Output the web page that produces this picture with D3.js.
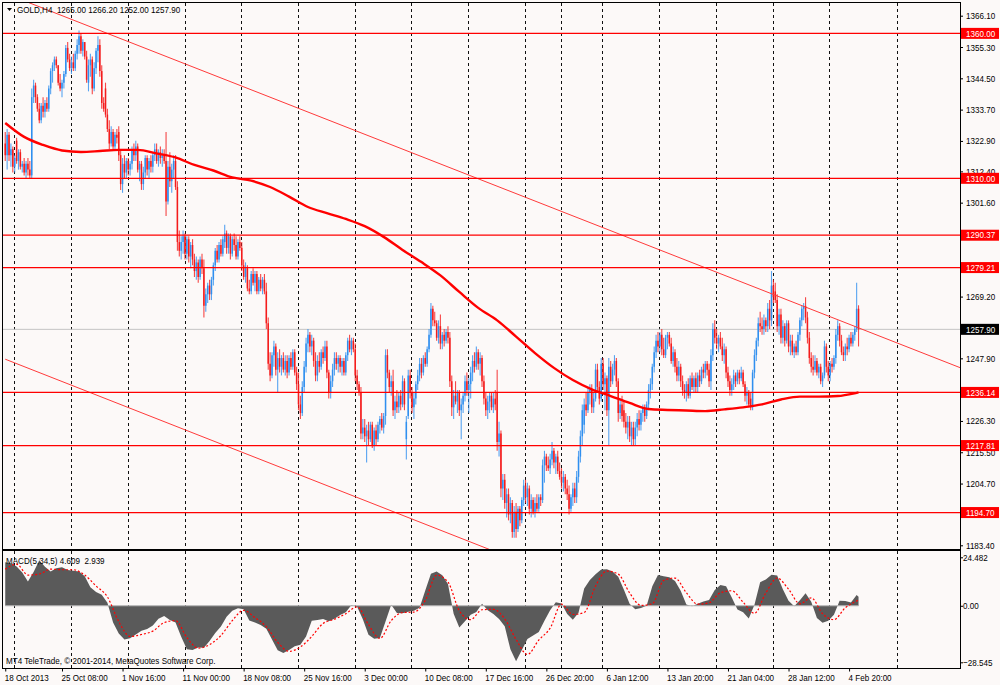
<!DOCTYPE html>
<html>
<head>
<meta charset="utf-8">
<script src="https://cdnjs.cloudflare.com/ajax/libs/d3/7.8.5/d3.min.js"></script>
<style>
	html, body { margin: 0; padding: 0; background: #fcf9f8; }
	svg { display: block; }
	text {
		font-family: "Liberation Sans", Arial, sans-serif;
		font-size: 9.4px;
		fill: #000;
		white-space: pre;
	}
</style>
</head>
<body>
<svg id="chart" width="1000" height="685"></svg>
<script>
// GOLD,H4 bars (one entry per 4 hour bar)
var barOpen = [
	1322,1318,1325,1318,1320,1314,1323,1316,1319,1314,
	1315,1312,1315,1313,1311,1338,1342,1338,1334,1330,
	1335,1333,1336,1334,1341,1347,1349,1351,1349,1343,
	1341,1343,1346,1355,1351,1348,1350,1348,1353,1356,
	1359,1354,1357,1352,1343,1349,1351,1341,1348,1354,
	1356,1347,1336,1341,1332,1327,1322,1326,1321,1325,
	1326,1318,1308,1315,1312,1316,1313,1315,1320,1318,
	1321,1313,1315,1308,1312,1317,1313,1316,1314,1318,
	1320,1316,1319,1317,1318,1316,1302,1314,1309,1313,
	1316,1307,1288,1285,1288,1290,1284,1289,1283,1287,
	1282,1278,1281,1276,1282,1279,1266,1270,1273,1270,
	1275,1280,1285,1282,1287,1284,1288,1291,1286,1290,
	1284,1289,1287,1283,1288,1286,1280,1276,1279,1272,
	1271,1277,1274,1277,1271,1275,1272,1275,1271,1260,
	1246,1242,1249,1252,1244,1248,1245,1248,1244,1247,
	1243,1248,1245,1250,1243,1239,1232,1229,1238,1245,
	1253,1256,1252,1254,1247,1242,1247,1245,1250,1248,
	1252,1243,1236,1240,1244,1248,1246,1248,1245,1247,
	1243,1249,1254,1251,1254,1251,1242,1239,1236,1222,
	1224,1221,1223,1220,1225,1218,1223,1220,1225,1227,
	1224,1228,1249,1243,1238,1240,1230,1233,1231,1235,
	1232,1240,1220,1228,1242,1236,1231,1234,1239,1242,
	1246,1243,1248,1246,1251,1256,1265,1261,1260,1255,
	1259,1253,1256,1254,1257,1255,1240,1231,1235,1233,
	1236,1230,1232,1235,1240,1237,1239,1243,1247,1245,
	1250,1246,1248,1240,1234,1230,1233,1235,1231,1234,
	1236,1219,1222,1203,1206,1198,1201,1194,1198,1188,
	1195,1189,1196,1192,1199,1204,1200,1203,1196,1199,
	1195,1198,1196,1200,1199,1211,1214,1211,1210,1213,
	1216,1212,1214,1209,1207,1205,1207,1203,1201,1196,
	1200,1203,1200,1207,1214,1221,1225,1232,1230,1236,
	1237,1231,1234,1244,1238,1234,1246,1239,1241,1230,
	1245,1240,1244,1247,1240,1229,1232,1230,1226,1224,
	1226,1221,1224,1220,1224,1227,1225,1229,1231,1228,
	1232,1237,1239,1245,1250,1254,1252,1256,1251,1249,
	1255,1256,1253,1247,1250,1245,1242,1245,1240,1237,
	1236,1239,1235,1241,1238,1241,1238,1242,1240,1244,
	1243,1246,1244,1240,1249,1258,1255,1253,1255,1252,
	1249,1251,1243,1240,1237,1239,1242,1240,1243,1241,
	1243,1239,1235,1236,1234,1231,1243,1249,1254,1260,
	1259,1258,1261,1259,1265,1261,1273,1271,1268,1259,
	1263,1255,1259,1254,1260,1252,1254,1250,1252,1250,
	1256,1261,1265,1266,1262,1255,1248,1245,1244,1247,
	1243,1245,1240,1242,1252,1245,1242,1246,1245,1248,
	1256,1259,1254,1250,1249,1252,1251,1255,1253,1256,
	1258,1265.00
];
var barHigh = [
	1326,1327,1326,1322,1321,1318,1324,1320,1320,1316,
	1317,1316,1317,1316,1341,1344,1343,1339,1336,1336,
	1338,1337,1338,1342,1348,1350,1352,1352,1349,1346,
	1344,1347,1356,1357,1353,1352,1353,1354,1358,1361,
	1360,1358,1357,1354,1351,1353,1352,1350,1355,1359,
	1358,1349,1338,1343,1334,1330,1328,1327,1326,1327,
	1328,1320,1317,1318,1317,1317,1316,1321,1322,1323,
	1322,1316,1316,1314,1318,1318,1317,1318,1319,1322,
	1322,1320,1321,1320,1320,1326,1316,1319,1315,1318,
	1318,1309,1292,1290,1292,1291,1290,1290,1288,1289,
	1284,1283,1282,1283,1284,1282,1272,1274,1275,1276,
	1281,1286,1287,1288,1289,1290,1294,1292,1291,1291,
	1290,1291,1290,1289,1290,1288,1282,1281,1280,1275,
	1278,1279,1278,1278,1276,1277,1276,1277,1274,1262,
	1250,1250,1254,1253,1250,1251,1249,1250,1249,1249,
	1249,1250,1251,1251,1245,1243,1235,1240,1247,1255,
	1258,1257,1256,1255,1250,1249,1250,1251,1252,1254,
	1254,1244,1242,1246,1250,1250,1249,1249,1248,1248,
	1250,1255,1256,1255,1255,1253,1244,1240,1238,1227,
	1227,1225,1226,1226,1226,1224,1225,1226,1228,1229,
	1229,1251,1251,1244,1242,1244,1235,1237,1236,1237,
	1242,1241,1228,1244,1244,1238,1236,1240,1244,1248,
	1248,1249,1250,1252,1258,1267,1266,1264,1261,1261,
	1263,1257,1258,1258,1259,1257,1242,1237,1240,1237,
	1237,1234,1236,1242,1243,1241,1245,1249,1250,1252,
	1251,1250,1249,1242,1236,1235,1236,1236,1236,1237,
	1244,1226,1223,1208,1208,1203,1203,1200,1199,1197,
	1198,1197,1197,1200,1206,1206,1205,1204,1201,1200,
	1200,1201,1201,1201,1213,1216,1215,1214,1215,1219,
	1217,1215,1216,1212,1210,1209,1208,1206,1204,1201,
	1205,1205,1209,1216,1223,1232,1234,1236,1238,1239,
	1239,1236,1246,1246,1240,1248,1248,1243,1242,1248,
	1247,1246,1249,1248,1241,1234,1235,1233,1229,1228,
	1228,1226,1226,1226,1229,1230,1230,1232,1232,1233,
	1239,1241,1246,1252,1256,1257,1257,1258,1255,1256,
	1257,1257,1255,1252,1251,1248,1247,1246,1242,1239,
	1240,1241,1242,1243,1242,1243,1243,1244,1245,1246,
	1247,1247,1246,1251,1260,1261,1258,1256,1257,1255,
	1253,1252,1245,1242,1241,1244,1243,1244,1244,1245,
	1244,1240,1238,1237,1236,1244,1251,1255,1262,1264,
	1262,1263,1262,1267,1268,1278,1275,1274,1270,1265,
	1265,1261,1260,1261,1261,1256,1256,1253,1254,1257,
	1262,1266,1267,1269,1264,1257,1250,1249,1249,1248,
	1246,1246,1243,1254,1253,1247,1247,1248,1249,1258,
	1261,1260,1256,1252,1253,1255,1256,1257,1257,1259,
	1274,1266.20
];
var barLow = [
	1316,1313,1316,1314,1312,1312,1315,1313,1313,1312,
	1311,1310,1311,1310,1310,1336,1336,1333,1329,1329,
	1331,1331,1333,1333,1339,1343,1347,1348,1342,1340,
	1338,1341,1345,1350,1347,1346,1347,1347,1351,1353,
	1353,1352,1351,1343,1340,1345,1339,1340,1346,1350,
	1345,1334,1333,1331,1326,1320,1321,1320,1320,1322,
	1316,1306,1305,1310,1310,1311,1311,1313,1316,1316,
	1312,1309,1306,1306,1310,1311,1310,1312,1312,1316,
	1315,1314,1315,1314,1315,1297,1301,1307,1305,1310,
	1306,1285,1283,1282,1284,1282,1282,1281,1279,1280,
	1276,1275,1274,1275,1277,1262,1264,1267,1268,1268,
	1273,1278,1281,1281,1283,1283,1286,1284,1284,1282,
	1283,1285,1282,1282,1285,1278,1275,1274,1271,1270,
	1270,1273,1271,1270,1270,1271,1270,1270,1258,1244,
	1240,1241,1245,1242,1236,1243,1242,1243,1242,1241,
	1242,1244,1244,1242,1237,1230,1227,1228,1236,1243,
	1250,1250,1249,1245,1240,1240,1243,1244,1246,1247,
	1241,1234,1234,1238,1242,1244,1243,1243,1242,1242,
	1242,1247,1250,1249,1250,1240,1237,1235,1220,1220,
	1219,1212,1218,1219,1217,1216,1218,1219,1222,1223,
	1222,1225,1241,1236,1235,1228,1227,1229,1229,1230,
	1231,1230,1213,1227,1234,1229,1227,1232,1237,1240,
	1241,1242,1245,1245,1250,1255,1259,1259,1254,1253,
	1251,1251,1252,1253,1253,1238,1228,1227,1232,1229,
	1228,1220,1229,1233,1235,1229,1234,1240,1243,1244,
	1244,1242,1238,1232,1228,1227,1229,1230,1229,1230,
	1216,1214,1200,1199,1196,1193,1192,1191,1186,1186,
	1186,1188,1190,1191,1197,1198,1197,1194,1193,1194,
	1193,1195,1195,1197,1198,1205,1209,1209,1208,1211,
	1210,1208,1208,1206,1203,1202,1201,1199,1194,1195,
	1197,1198,1198,1205,1212,1218,1222,1228,1229,1232,
	1229,1229,1233,1236,1232,1233,1237,1230,1228,1218,
	1238,1239,1242,1238,1226,1227,1226,1224,1222,1220,
	1219,1218,1218,1218,1221,1223,1223,1226,1226,1227,
	1230,1234,1237,1243,1248,1250,1250,1249,1248,1248,
	1251,1252,1246,1245,1243,1240,1240,1238,1235,1234,
	1233,1234,1234,1237,1236,1236,1236,1238,1239,1241,
	1241,1242,1238,1237,1247,1253,1251,1250,1251,1247,
	1246,1241,1238,1235,1235,1237,1238,1239,1239,1240,
	1238,1233,1232,1231,1230,1230,1241,1247,1252,1257,
	1256,1256,1257,1257,1258,1259,1267,1267,1257,1256,
	1253,1253,1252,1253,1250,1249,1249,1248,1249,1249,
	1254,1259,1261,1260,1253,1246,1243,1242,1243,1242,
	1241,1239,1238,1241,1243,1240,1240,1243,1244,1246,
	1254,1252,1249,1247,1247,1249,1250,1252,1252,1254,
	1257,1252.00
];
var barClose = [
	1318,1325,1318,1320,1314,1317,1316,1319,1314,1315,
	1312,1315,1313,1311,1338,1342,1338,1334,1330,1335,
	1333,1336,1334,1341,1347,1349,1351,1349,1343,1341,
	1343,1346,1355,1351,1348,1350,1348,1353,1356,1359,
	1354,1357,1352,1344,1349,1351,1341,1348,1354,1356,
	1347,1336,1334,1332,1327,1322,1326,1321,1325,1324,
	1318,1308,1315,1312,1316,1313,1315,1320,1318,1321,
	1313,1315,1308,1312,1317,1313,1316,1314,1318,1320,
	1316,1319,1317,1318,1316,1302,1314,1309,1313,1316,
	1307,1288,1285,1288,1290,1284,1289,1283,1287,1282,
	1278,1281,1276,1282,1279,1266,1270,1273,1270,1275,
	1280,1285,1282,1287,1284,1289,1291,1286,1290,1284,
	1289,1287,1283,1288,1286,1280,1276,1279,1272,1271,
	1277,1274,1277,1271,1275,1272,1275,1271,1260,1246,
	1242,1249,1252,1244,1248,1245,1248,1244,1247,1243,
	1248,1245,1250,1243,1239,1232,1229,1238,1245,1253,
	1256,1252,1254,1247,1242,1247,1245,1250,1248,1252,
	1243,1236,1240,1244,1248,1246,1248,1245,1247,1243,
	1249,1254,1251,1254,1251,1242,1239,1236,1222,1224,
	1221,1223,1220,1225,1218,1223,1220,1225,1227,1224,
	1228,1249,1243,1238,1240,1230,1233,1231,1235,1232,
	1240,1232,1226,1242,1236,1231,1234,1239,1242,1246,
	1243,1248,1246,1251,1256,1265,1261,1260,1255,1259,
	1253,1256,1254,1257,1255,1240,1231,1235,1233,1236,
	1230,1232,1235,1240,1237,1239,1243,1247,1245,1250,
	1246,1248,1240,1234,1230,1233,1235,1231,1234,1232,
	1219,1222,1203,1206,1198,1201,1194,1198,1188,1195,
	1189,1196,1192,1199,1204,1200,1203,1196,1199,1195,
	1198,1196,1200,1199,1211,1214,1211,1210,1213,1216,
	1212,1214,1209,1207,1205,1207,1203,1201,1196,1200,
	1203,1200,1207,1214,1221,1230,1232,1230,1236,1237,
	1231,1234,1244,1238,1234,1246,1239,1241,1230,1245,
	1240,1244,1247,1240,1229,1232,1228,1226,1224,1226,
	1221,1224,1220,1224,1227,1225,1229,1231,1228,1232,
	1237,1239,1245,1250,1254,1252,1256,1251,1249,1255,
	1256,1253,1247,1250,1245,1242,1245,1240,1237,1236,
	1239,1235,1241,1238,1241,1238,1242,1240,1244,1243,
	1246,1244,1240,1249,1258,1255,1253,1255,1252,1249,
	1251,1243,1240,1237,1239,1242,1240,1243,1241,1243,
	1239,1235,1236,1232,1231,1243,1249,1254,1260,1259,
	1258,1261,1259,1265,1261,1273,1269,1268,1259,1263,
	1255,1259,1254,1260,1252,1254,1250,1252,1250,1256,
	1261,1265,1266,1262,1255,1248,1245,1244,1247,1243,
	1245,1240,1242,1252,1245,1242,1246,1245,1248,1256,
	1259,1254,1250,1249,1252,1251,1255,1253,1256,1258,
	1265,1257.90
];

// moving average, one value every 10 bars, last one on the final bar
var maValues = [
	1329.1,1324.3,1321.5,1319.6,1319.1,1319.4,1319.8,1319.8,1318.6,1317.2,
	1314.6,1312.7,1310.3,1309.2,1307.0,1303.7,1300.1,1298.0,1296.0,1293.5,
	1289.8,1285.3,1281.1,1276.5,1270.8,1265.3,1261.0,1255.4,1249.7,1244.6,
	1240.4,1237.2,1234.9,1232.5,1230.4,1230.1,1229.9,1229.7,1230.3,1231.0,
	1232.0,1233.7,1234.7,1234.7,1234.9,1236.0,1236.14
];

// MACD(5,34,5): main every 3 bars, signal every 6 bars, last value on the final bar
var macdMain = [
	22,21.5,19.8,16.8,12.3,17,23,19.7,17.3,18.9,
	19.5,18.1,17.7,17.3,14.9,9.4,7,5.6,1.5,-8.5,
	-14,-17,-16.4,-14.5,-12.6,-11.7,-10,-6.6,-5.2,-7.2,
	-8.5,-15.7,-21.9,-22.3,-21.1,-21.2,-17.8,-13.8,-10.5,-5.6,
	-2.5,-1.3,-1.8,-7.4,-8.5,-9.7,-11.6,-17,-22.5,-23.9,
	-22.3,-20.4,-19.7,-15.5,-7.5,-7.2,-6.7,-7.8,-6.5,-4.6,
	-3.3,0.4,-0.5,-6.8,-14.6,-16.7,-16.3,-8,0.5,-3.6,
	-3.8,-3,-2.5,-1,7.7,16.2,17.3,15.4,11,-4,
	-11,-7.8,-4.5,-3.2,1,-2.3,-4.1,-6.7,-10.4,-22,
	-28,-22.5,-16.8,-15,-13.2,-7.5,-2.2,1.8,1.1,-4.2,
	-7.1,-3.5,8.7,13,15.9,18.3,18.4,17.3,14.6,8.1,
	1,-1.8,-1.1,0,9.8,15.6,14.9,14.4,12.5,7.6,
	0.6,-0.2,1,2.1,2.9,8,10.5,9.8,4.2,-1.9,
	-3.3,-6.4,0.5,11.9,13.3,15.7,15.3,8.3,2.5,-0.3,
	2.8,6.3,2,-6.2,-8.6,-7.6,-4.5,2.5,2.4,1.6,
	5.5,4.609
];
var macdSignal = [
	18.5,21,15.5,16,18.5,18.2,18.2,15.5,10,4.5,
	-8,-15.5,-14.5,-12.8,-8.5,-7.5,-16,-21.4,-19.6,-15,
	-7.5,-2.3,-6,-10.5,-18.5,-23,-20.8,-15.5,-8.9,-6.8,
	-4,-0.5,-9.5,-16.5,-7.5,-3.4,-3.2,2.7,15.5,12,
	-2.5,-7,-2,-1.8,-6.6,-17,-24.6,-17.3,-11.3,0.8,
	-4.4,-3.4,10,17.5,16,6.5,0.2,1,12.8,14,
	6.6,0.8,1.5,6.6,7.6,1.8,-3.8,6.5,14,8.4,
	1,4,-4,-7,-1,2.4,2.939
];

var priceTicks = [1366.1, 1355.3, 1344.5, 1333.7, 1322.9, 1312.4, 1301.6, 1290.8, 1280.0,
	1269.2, 1258.4, 1247.9, 1237.1, 1226.3, 1215.5, 1204.7, 1193.9, 1183.4];
var macdTicks = [24.482, 0, -28.545];
var levelValues = [1360.00, 1310.00, 1290.37, 1279.21, 1236.14, 1217.81, 1194.70];
var bidValue = 1257.90;

// channel lines as [bar, price] end points
var channelUpper = [[0, 1373.8], [505, 1244.6]];
var channelLower = [[0, 1247.6], [505, 1118.1]];

var timeLabels = ["18 Oct 2013", "25 Oct 08:00", "1 Nov 16:00", "11 Nov 00:00", "18 Nov 08:00",
	"25 Nov 16:00", "3 Dec 00:00", "10 Dec 08:00", "17 Dec 16:00", "26 Dec 20:00",
	"6 Jan 12:00", "13 Jan 20:00", "21 Jan 04:00", "28 Jan 12:00", "4 Feb 20:00"];
var timeLabelBars = [0, 30, 62, 94, 126, 158, 190, 222, 254, 286, 318, 350, 382, 414, 446];
var gridBars = [4.6, 34.8, 64.9, 95, 124.6, 154.7, 184.9, 214.5, 244.6, 274.7, 293.7,
	315.4, 345.5, 375.7, 405.8, 435.4, 471.3];

var config = {
	paneLeft: 3,
	paneRight: 960,
	mainTop: 3,
	mainBottom: 549,
	macdTop: 551,
	macdBottom: 668,
	firstBarX: 5.24,
	barStep: 1.892,
	priceRange: [545.3, 15.7],
	macdRange: [662.3, 557.3],
	upColor: "#2f8fef",
	downColor: "#f41c1c",
	lineColor: "#ff0000",
	histColor: "#5a5a5a",
	// the terminal font is narrow: squeeze the sans glyphs to this share of their width
	textSqueeze: 0.86
};

var svg = d3.select("#chart");

var n = Math.min(barOpen.length, barHigh.length, barLow.length, barClose.length),
	lastBar = n - 1;

var x = d3.scaleLinear()
	.domain([0, lastBar])
	.range([config.firstBarX, config.firstBarX + lastBar * config.barStep]);

var y = d3.scaleLinear()
	.domain([priceTicks[priceTicks.length - 1], priceTicks[0]])
	.range(config.priceRange);

var yMacd = d3.scaleLinear()
	.domain([macdTicks[2], macdTicks[0]])
	.range(config.macdRange);

function sampleBars(values, step) {

	return values.map(function(v, i) {
		return [i === values.length - 1 ? lastBar : i * step, v];
	});
}

function squeeze(node) {

	var len = node.getComputedTextLength();
	d3.select(node)
		.attr("textLength", len * config.textSqueeze)
		.attr("lengthAdjust", "spacingAndGlyphs");
	return len * config.textSqueeze;
}

var defs = svg.append("defs");

defs.append("clipPath")
	.attr("id", "clipMain")
	.append("rect")
	.attr("x", config.paneLeft)
	.attr("y", config.mainTop)
	.attr("width", config.paneRight - config.paneLeft)
	.attr("height", config.mainBottom - config.mainTop);

defs.append("clipPath")
	.attr("id", "clipMacd")
	.append("rect")
	.attr("x", config.paneLeft)
	.attr("y", config.macdTop)
	.attr("width", config.paneRight - config.paneLeft)
	.attr("height", config.macdBottom - config.macdTop);

svg.append("rect")
	.attr("width", 1000)
	.attr("height", 685)
	.attr("fill", "#fcf9f8");

// vertical dashed grid through both panes
var grid = svg.append("g")
	.attr("class", "grid")
	.attr("stroke", "#111")
	.attr("stroke-width", 1)
	.attr("stroke-dasharray", "3,3");

[[config.mainTop, config.mainBottom], [config.macdTop, config.macdBottom]].forEach(function(span) {

	grid.append("g")
		.selectAll("line")
		.data(gridBars)
		.join("line")
		.attr("x1", function(d) { return Math.round(x(d)) + 0.5; })
		.attr("x2", function(d) { return Math.round(x(d)) + 0.5; })
		.attr("y1", span[0])
		.attr("y2", span[1]);
});

var main = svg.append("g")
	.attr("class", "mainPane")
	.attr("clip-path", "url(#clipMain)");

main.append("line")
	.attr("class", "bidLine")
	.attr("x1", config.paneLeft)
	.attr("x2", config.paneRight)
	.attr("y1", y(bidValue))
	.attr("y2", y(bidValue))
	.attr("stroke", "#c4c4c4")
	.attr("stroke-width", 1);

var bars = main.append("g")
	.attr("class", "bars")
	.selectAll("g")
	.data(d3.range(n))
	.join("g")
	.attr("stroke", function(i) {
		return barClose[i] >= barOpen[i] ? config.upColor : config.downColor;
	});

bars.append("line")
	.attr("x1", function(i) { return x(i); })
	.attr("x2", function(i) { return x(i); })
	.attr("y1", function(i) { return y(barHigh[i]); })
	.attr("y2", function(i) { return y(barLow[i]); })
	.attr("stroke-width", 1.1)
	.attr("stroke-opacity", 0.8);

bars.append("line")
	.attr("x1", function(i) { return x(i); })
	.attr("x2", function(i) { return x(i); })
	.attr("y1", function(i) { return y(barOpen[i]); })
	.attr("y2", function(i) { return y(barClose[i]); })
	.attr("stroke-width", 1.5);

main.append("path")
	.attr("class", "movingAverage")
	.datum(sampleBars(maValues, 10))
	.attr("fill", "none")
	.attr("stroke", config.lineColor)
	.attr("stroke-width", 2.4)
	.attr("d", d3.line()
		.x(function(d) { return x(d[0]); })
		.y(function(d) { return y(d[1]); })
		.curve(d3.curveMonotoneX));

main.selectAll("line.channel")
	.data([channelUpper, channelLower])
	.join("line")
	.attr("class", "channel")
	.attr("x1", function(d) { return x(d[0][0]); })
	.attr("y1", function(d) { return y(d[0][1]); })
	.attr("x2", function(d) { return x(d[1][0]); })
	.attr("y2", function(d) { return y(d[1][1]); })
	.attr("stroke", "#ff3a3a")
	.attr("stroke-width", 1);

main.selectAll("line.level")
	.data(levelValues)
	.join("line")
	.attr("class", "level")
	.attr("x1", config.paneLeft)
	.attr("x2", config.paneRight)
	.attr("y1", function(d) { return y(d); })
	.attr("y2", function(d) { return y(d); })
	.attr("stroke", config.lineColor)
	.attr("stroke-width", 1.2);

// MACD pane
var macd = svg.append("g")
	.attr("class", "macdPane")
	.attr("clip-path", "url(#clipMacd)");

macd.append("path")
	.datum(sampleBars(macdMain, 3))
	.attr("fill", config.histColor)
	.attr("d", d3.area()
		.x(function(d) { return x(d[0]); })
		.y0(yMacd(0))
		.y1(function(d) { return yMacd(d[1]); }));

macd.append("line")
	.attr("x1", x(0))
	.attr("x2", x(lastBar))
	.attr("y1", yMacd(0))
	.attr("y2", yMacd(0))
	.attr("stroke", "#b4b4b4")
	.attr("stroke-width", 1);

macd.append("path")
	.datum(sampleBars(macdSignal, 6))
	.attr("fill", "none")
	.attr("stroke", config.lineColor)
	.attr("stroke-width", 1.2)
	.attr("stroke-dasharray", "2,2")
	.attr("d", d3.line()
		.x(function(d) { return x(d[0]); })
		.y(function(d) { return yMacd(d[1]); })
		.curve(d3.curveMonotoneX));

// axes
function plainAxis(g) {
	g.select(".domain").remove();
	g.attr("font-family", null).attr("font-size", null);
	g.selectAll(".tick line").attr("stroke", "#000");
	g.selectAll(".tick text").each(function() { squeeze(this); });
}

svg.append("g")
	.attr("class", "priceAxis")
	.attr("transform", "translate(" + config.paneRight + ",0)")
	.call(d3.axisRight(y)
		.tickValues(priceTicks)
		.tickSize(3)
		.tickPadding(3)
		.tickFormat(d3.format(".2f")))
	.call(plainAxis);

svg.append("g")
	.attr("class", "macdAxis")
	.attr("transform", "translate(" + config.paneRight + ",0)")
	.call(d3.axisRight(yMacd)
		.tickValues(macdTicks)
		.tickSize(3)
		.tickPadding(0)
		.tickFormat(function(d) { return d === 0 ? "0.00" : d3.format(".3f")(d); }))
	.call(plainAxis);

svg.append("g")
	.attr("class", "timeAxis")
	.attr("transform", "translate(0," + (config.macdBottom + 0.5) + ")")
	.call(function(g) {
		g.call(d3.axisBottom(x)
			.tickValues(timeLabelBars)
			.tickSize(3)
			.tickPadding(3)
			.tickFormat(function(d, i) { return timeLabels[i]; }));
		g.selectAll(".tick text")
			.attr("text-anchor", "start")
			.attr("dx", -1);
	})
	.call(plainAxis);

// price tags on the axis
var tags = svg.append("g")
	.attr("class", "priceTags")
	.selectAll("g")
	.data(levelValues.map(function(v) { return {value: v, fill: "#ff0000"}; })
		.concat([{value: bidValue, fill: "#000000"}]))
	.join("g")
	.attr("transform", function(d) { return "translate(" + (config.paneRight + 1) + "," + y(d.value) + ")"; });

tags.append("rect")
	.attr("x", 0)
	.attr("y", -5.5)
	.attr("width", 38)
	.attr("height", 11)
	.attr("fill", function(d) { return d.fill; });

tags.append("text")
	.attr("x", 5)
	.attr("dy", "0.34em")
	.style("fill", "#fff")
	.text(function(d) { return d3.format(".2f")(d.value); })
	.each(function() { squeeze(this); });

// pane frames
svg.append("g")
	.attr("class", "frames")
	.attr("fill", "none")
	.attr("stroke", "#000")
	.selectAll("rect")
	.data([[config.mainTop, config.mainBottom], [config.macdTop, config.macdBottom]])
	.join("rect")
	.attr("x", config.paneLeft - 0.5)
	.attr("y", function(d) { return d[0] - 0.5; })
	.attr("width", config.paneRight - config.paneLeft + 1)
	.attr("height", function(d) { return d[1] - d[0] + 1; });

// chart titles, each one line of text
var fmt2 = d3.format(".2f"),
	fmt3 = d3.format(".3f");

svg.append("path")
	.attr("d", "M7,8L12,8L9.5,11Z")
	.attr("fill", "#000");

var titles = [
	{x: 17, y: 13, text: "GOLD,H4  " + [barOpen[lastBar], barHigh[lastBar], barLow[lastBar], barClose[lastBar]].map(fmt2).join(" ")},
	{x: 6, y: 564, text: "MACD(5,34,5) " + fmt3(macdMain[macdMain.length - 1]) + "  " + fmt3(macdSignal[macdSignal.length - 1])},
	{x: 6, y: 664, text: "MT4 TeleTrade, \u00a9 2001-2014, MetaQuotes Software Corp."}
];

svg.append("g")
	.attr("class", "titles")
	.selectAll("text")
	.data(titles)
	.join("text")
	.attr("x", function(d) { return d.x; })
	.attr("y", function(d) { return d.y; })
	.text(function(d) { return d.text; })
	.each(function() { squeeze(this); });
</script>
</body>
</html>
